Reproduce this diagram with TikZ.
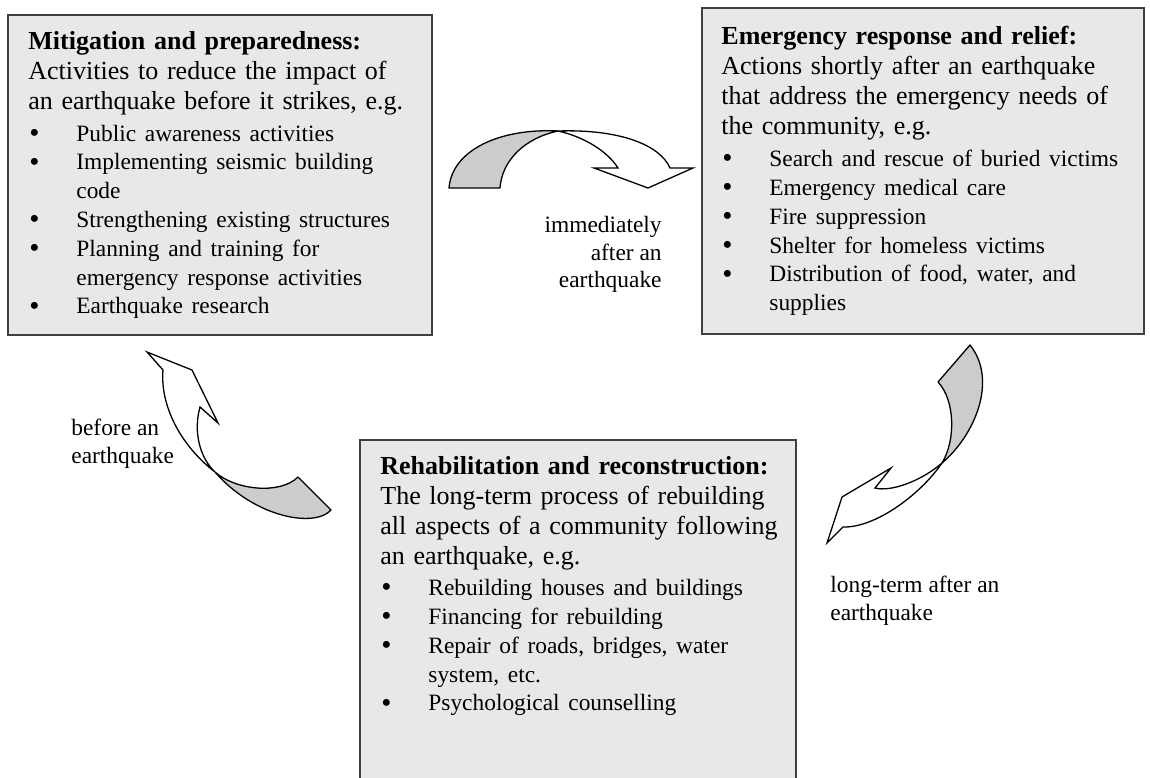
\documentclass[tikz,border=0pt]{standalone}
\usepackage{fontspec}
\setmainfont{Liberation Serif}
\usepackage{xcolor}
\usepackage{tikz}
\usetikzlibrary{calc}

\definecolor{panelfill}{HTML}{E8E8E8}
\definecolor{panelline}{HTML}{404040}
\definecolor{arrowgray}{HTML}{CCCCCC}

\newcommand{\bodysize}{\fontsize{13}{15}\selectfont}
\newcommand{\listsize}{\fontsize{11.7}{14.4}\selectfont}
\newcommand{\nl}{\hfil\break}
\newcommand{\bul}[1]{\par\hangindent=24pt\hangafter=1\noindent
  \makebox[24pt][l]{\hspace{0.5pt}\raisebox{-0.6pt}{\fontsize{14.5}{14.5}\selectfont\textbullet}}#1}

\tikzset{
  panel/.style={draw=panelline, fill=panelfill, line width=0.75pt, inner sep=0pt, anchor=north west},
  paneltext/.style={inner sep=0pt, anchor=north west, align=left, font=\bodysize},
  cue/.style={inner sep=0pt, anchor=north west, align=left, font=\fontsize{11.7}{13.75}\selectfont},
  bandback/.style={draw=black, fill=arrowgray, line width=0.65pt, line join=round},
  bandfront/.style={draw=black, fill=white, line width=0.65pt, line join=miter}
}

\begin{document}
\begin{tikzpicture}[x=0.5pt, y=-0.5pt]
\clip (0,0) rectangle (1150,777);
\fill[white] (0,0) rectangle (1150,777);

% Draw panels
\node[panel, minimum width=212pt, minimum height=160pt] (mit) at (7,14) {};
\node[panel, minimum width=221pt, minimum height=163pt] (emg) at (701,7) {};
\node[panel, minimum width=218pt, minimum height=180pt] (reb) at (359,439) {};

% Panel texts
\node[paneltext, text width=200pt] (mittext) at ($(mit.north west)+(21,17.5)$) {%
{\bfseries Mitigation and preparedness:}\\
Activities to reduce the impact of\\
an earthquake before it strikes, e.g.\par
\listsize\vskip1.2pt
\bul{Public awareness activities}
\bul{Implementing seismic building\nl code}
\bul{Strengthening existing structures}
\bul{Planning and training for\nl emergency response activities}
\bul{Earthquake research}\par};

\node[paneltext, text width=210pt] (emgtext) at ($(emg.north west)+(20,18.5)$) {%
{\bfseries Emergency response and relief:}\\
Actions shortly after an earthquake\\
that address the emergency needs of\\
the community, e.g.\par
\listsize\vskip1.8pt
\bul{Search and rescue of buried victims}
\bul{Emergency medical care}
\bul{Fire suppression}
\bul{Shelter for homeless victims}
\bul{Distribution of food, water, and\nl supplies}\par};

\node[paneltext, text width=205pt] (rebtext) at ($(reb.north west)+(21,17)$) {%
{\bfseries Rehabilitation and reconstruction:}\\
The long-term process of rebuilding\\
all aspects of a community following\\
an earthquake, e.g.\par
\listsize\vskip1.2pt
\bul{Rebuilding houses and buildings}
\bul{Financing for rebuilding}
\bul{Repair of roads, bridges, water\nl system, etc.}
\bul{Psychological counselling}\par};

% Curved arrow, top
\draw[bandback] (449,188) .. controls (452,150) and (500,128) .. (558,131)
  .. controls (525,138) and (502,160) .. (500,188) -- cycle;
\draw[bandfront] (558,131) .. controls (620,129) and (660,145) .. (670,168)
  -- (693,168) -- (648,188) -- (594,168) -- (618,168)
  .. controls (608,152) and (585,137) .. (558,131) -- cycle;

% Curved arrow, right
\draw[bandback] (938,382) -- (970,345) .. controls (998,380) and (975,435) .. (942,463)
  .. controls (956,440) and (955,400) .. (938,382) -- cycle;
\draw[bandfront] (942,463) .. controls (920,495) and (875,528) .. (843,527)
  -- (827,543) -- (842,497) -- (891,468) -- (875,488)
  .. controls (890,492) and (920,482) .. (942,463) -- cycle;

% Curved arrow, left
\draw[bandback] (215,472) .. controls (235,490) and (280,495) .. (298,477)
  -- (331,510) .. controls (315,528) and (255,518) .. (215,472) -- cycle;
\draw[bandfront] (215,472) .. controls (180,445) and (160,405) .. (163,370)
  -- (147,352) -- (192,370) -- (218,423) -- (200,407)
  .. controls (193,432) and (200,458) .. (215,472) -- cycle;

% Labels
\node[cue, anchor=north east, align=right] (immed) at (662,216) {immediately\\after an\\earthquake};
\node[cue] (before) at (71,419) {before an\\earthquake};
\node[cue] (longterm) at (830,576) {long-term after an\\earthquake};
\end{tikzpicture}
\end{document}
